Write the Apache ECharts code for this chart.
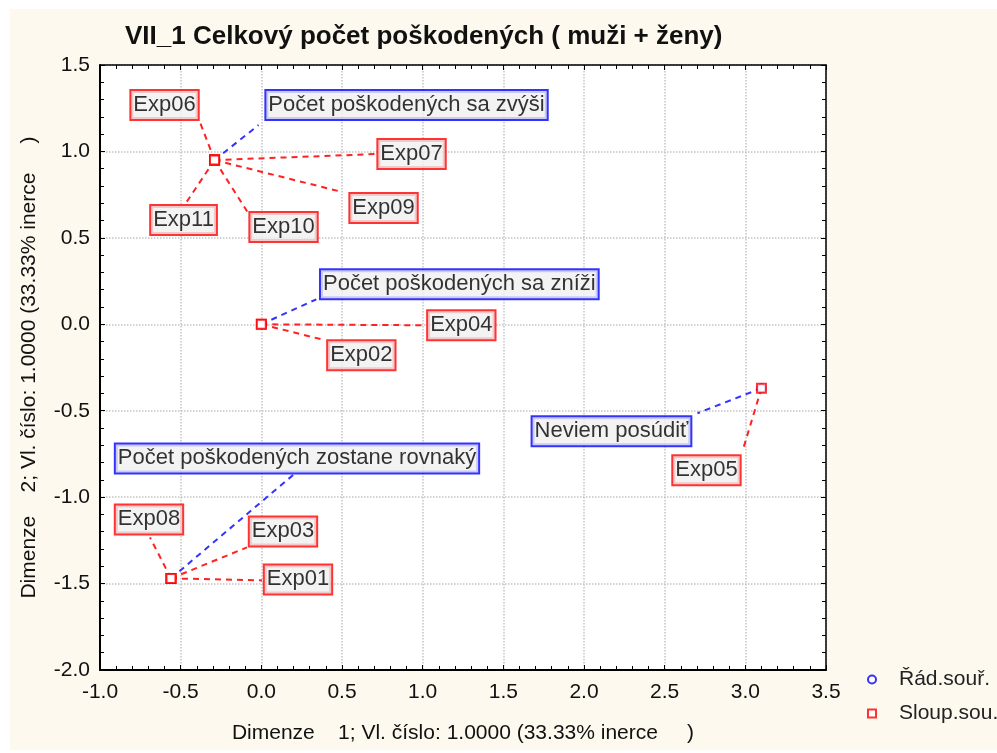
<!DOCTYPE html>
<html>
<head>
<meta charset="utf-8">
<script src="https://cdn.jsdelivr.net/npm/echarts@6/dist/echarts.min.js"></script>
<style>
  html, body { margin: 0; padding: 0; background: #fff; }
  #main { width: 997px; height: 753px; }
</style>
</head>
<body>
<div id="main"></div>
<script>
// sloupcove body (Exp01..Exp11)
var colNames = ['Exp01', 'Exp02', 'Exp03', 'Exp04', 'Exp05', 'Exp06', 'Exp07', 'Exp08', 'Exp09', 'Exp10', 'Exp11'];
var colX = [-0.56, 0.0, -0.56, 0.0, 3.10, -0.29, -0.29, -0.56, -0.29, -0.29, -0.29];
var colY = [-1.47, 0.0, -1.47, 0.0, -0.37, 0.95, 0.95, -1.47, 0.95, 0.95, 0.95];

// radkove body
var rowNames = ['Počet poškodených sa zvýši', 'Počet poškodených sa zníži', 'Neviem posúdiť', 'Počet poškodených zostane rovnaký'];
var rowX = [-0.29, 0.0, 3.10, -0.56];
var rowY = [0.95, 0.0, -0.37, -1.47];

var xTitle = 'Dimenze    1; Vl. číslo: 1.0000 (33.33% inerce     )';
var yTitle = 'Dimenze    2; Vl. číslo: 1.0000 (33.33% inerce     )';

// posun stredu popisku od bodu (px)
var labelOffset = {
  'Exp01': [127, 1], 'Exp02': [100, 31], 'Exp03': [112, -47], 'Exp04': [200, 1],
  'Exp05': [-55, 82], 'Exp06': [-50, -55], 'Exp07': [197, -6], 'Exp08': [-22, -59],
  'Exp09': [169, 48], 'Exp10': [69, 67], 'Exp11': [-31, 60],
  'Počet poškodených sa zvýši': [192, -55],
  'Počet poškodených sa zníži': [198, -40],
  'Neviem posúdiť': [-150, 43],
  'Počet poškodených zostane rovnaký': [126, -120]
};
// konec vodici cary vuci bodu (px)
var leaderEnd = {
  'Exp01': [91, 2], 'Exp02': [64, 16], 'Exp03': [76, -31], 'Exp04': [165, 1],
  'Exp05': [-19, 63], 'Exp06': [-15, -39], 'Exp07': [161, -6], 'Exp08': [-21, -41],
  'Exp09': [128, 32], 'Exp10': [33, 52], 'Exp11': [-28, 42],
  'Počet poškodených sa zvýši': [44, -35],
  'Počet poškodených sa zníži': [55, -25],
  'Neviem posúdiť': [-64, 25],
  'Počet poškodených zostane rovnaký': [124, -105]
};

var chart = echarts.init(document.getElementById('main'));

function pairs(names, xs, ys) {
  return names.map(function (n, i) { return { name: n, value: [xs[i], ys[i]] }; });
}

function layoutFn(names) {
  return function (p) {
    var off = labelOffset[names[p.dataIndex]] || [0, 0];
    return { dx: off[0], dy: off[1] };
  };
}

function leaderSeries(names, xs, ys, color) {
  return {
    type: 'custom',
    silent: true,
    clip: false,
    z: 2,
    encode: { x: 0, y: 1 },
    data: xs.map(function (x, i) { return [x, ys[i]]; }),
    renderItem: function (params, api) {
      var p = api.coord([api.value(0), api.value(1)]);
      var e = leaderEnd[names[params.dataIndex]];
      return {
        type: 'line',
        shape: { x1: p[0], y1: p[1], x2: p[0] + e[0], y2: p[1] + e[1] },
        style: { stroke: color, lineWidth: 2, lineDash: [6, 5] }
      };
    }
  };
}

var labelFont = 'Liberation Sans';

function boxLabel(border) {
  return {
    show: true,
    position: 'inside',
    formatter: '{b}',
    color: '#000',
    fontFamily: labelFont,
    fontSize: 22,
    lineHeight: 24,
    backgroundColor: '#f0f0f0',
    borderColor: border,
    borderWidth: 2,
    padding: [3, 2, 1, 2]
  };
}

chart.setOption({
  backgroundColor: '#ffffff',
  animation: false,
  graphic: {
    elements: [{
      type: 'rect', z: -10, silent: true,
      shape: { x: 10, y: 9, width: 987, height: 741 },
      style: { fill: '#fdf9ef' }
    }]
  },
  title: {
    text: 'VII_1 Celkový počet poškodených ( muži + ženy)',
    left: 120, top: 19,
    textStyle: { fontFamily: labelFont, fontSize: 26, fontWeight: 'bold', color: '#111' }
  },
  legend: {
    orient: 'vertical',
    left: 862, top: 664,
    itemWidth: 8, itemHeight: 8, itemGap: 13,
    textStyle: { fontFamily: labelFont, fontSize: 21, color: '#222', padding: [0, 0, 0, 18] },
    data: [
      { name: 'Řád.souř.', icon: 'emptyCircle' },
      { name: 'Sloup.sou.', icon: 'emptyRect' }
    ]
  },
  grid: {
    left: 100, right: 171, top: 65, bottom: 83,
    show: true, backgroundColor: '#ffffff', borderWidth: 0
  },
  xAxis: [{
    type: 'value', min: -1.0, max: 3.5, interval: 0.5,
    name: xTitle, nameLocation: 'middle', nameGap: 53,
    nameTextStyle: { fontFamily: labelFont, fontSize: 21, color: '#111' },
    axisLine: { show: true, onZero: false, lineStyle: { color: '#000', width: 2 } },
    axisTick: { show: true, inside: true, length: 5, lineStyle: { color: '#000' } },
    minorTick: { show: true, splitNumber: 5, length: 4, lineStyle: { color: '#000' } },
    axisLabel: {
      margin: 12, fontFamily: labelFont, fontSize: 21, color: '#111',
      formatter: function (v) { return v.toFixed(1); }
    },
    splitLine: { show: true, lineStyle: { color: '#c4c4c4', type: 'dotted', width: 1.5 } }
  }, {
    type: 'value', position: 'top', min: -1.0, max: 3.5, interval: 0.5,
    axisLine: { show: true, onZero: false, lineStyle: { color: '#000', width: 1.5 } },
    axisTick: { show: true, inside: true, length: 5, lineStyle: { color: '#000' } },
    minorTick: { show: true, splitNumber: 5, length: 4, lineStyle: { color: '#000' } },
    axisLabel: { show: false },
    splitLine: { show: false }
  }],
  yAxis: [{
    type: 'value', min: -2.0, max: 1.5, interval: 0.5,
    name: yTitle, nameLocation: 'middle', nameGap: 60, nameRotate: 90,
    nameTextStyle: { fontFamily: labelFont, fontSize: 21, color: '#111' },
    axisLine: { show: true, onZero: false, lineStyle: { color: '#000', width: 2 } },
    axisTick: { show: true, inside: true, length: 5, lineStyle: { color: '#000' } },
    minorTick: { show: true, splitNumber: 5, length: 4, lineStyle: { color: '#000' } },
    axisLabel: {
      margin: 10, fontFamily: labelFont, fontSize: 21, color: '#111',
      formatter: function (v) { return v.toFixed(1); }
    },
    splitLine: { show: true, lineStyle: { color: '#c4c4c4', type: 'dotted', width: 1.5 } }
  }, {
    type: 'value', position: 'right', min: -2.0, max: 1.5, interval: 0.5,
    axisLine: { show: true, onZero: false, lineStyle: { color: '#000', width: 1.5 } },
    axisTick: { show: true, inside: true, length: 5, lineStyle: { color: '#000' } },
    minorTick: { show: true, splitNumber: 5, length: 4, lineStyle: { color: '#000' } },
    axisLabel: { show: false },
    splitLine: { show: false }
  }],
  series: [
    leaderSeries(rowNames, rowX, rowY, '#3333ff'),
    leaderSeries(colNames, colX, colY, '#ff2222'),
    {
      name: 'Řád.souř.',
      type: 'scatter',
      symbol: 'emptyCircle',
      symbolSize: 8,
      itemStyle: { color: '#0000ff', borderWidth: 2 },
      data: pairs(rowNames, rowX, rowY),
      label: boxLabel('#0000ff'),
      labelLayout: layoutFn(rowNames),
      z: 3
    }, {
      name: 'Sloup.sou.',
      type: 'scatter',
      symbol: 'emptyRect',
      symbolSize: 9,
      itemStyle: { color: '#ff0000', borderWidth: 2 },
      data: pairs(colNames, colX, colY),
      label: boxLabel('#ff0000'),
      labelLayout: layoutFn(colNames),
      z: 4
    }
  ]
});
</script>
</body>
</html>
